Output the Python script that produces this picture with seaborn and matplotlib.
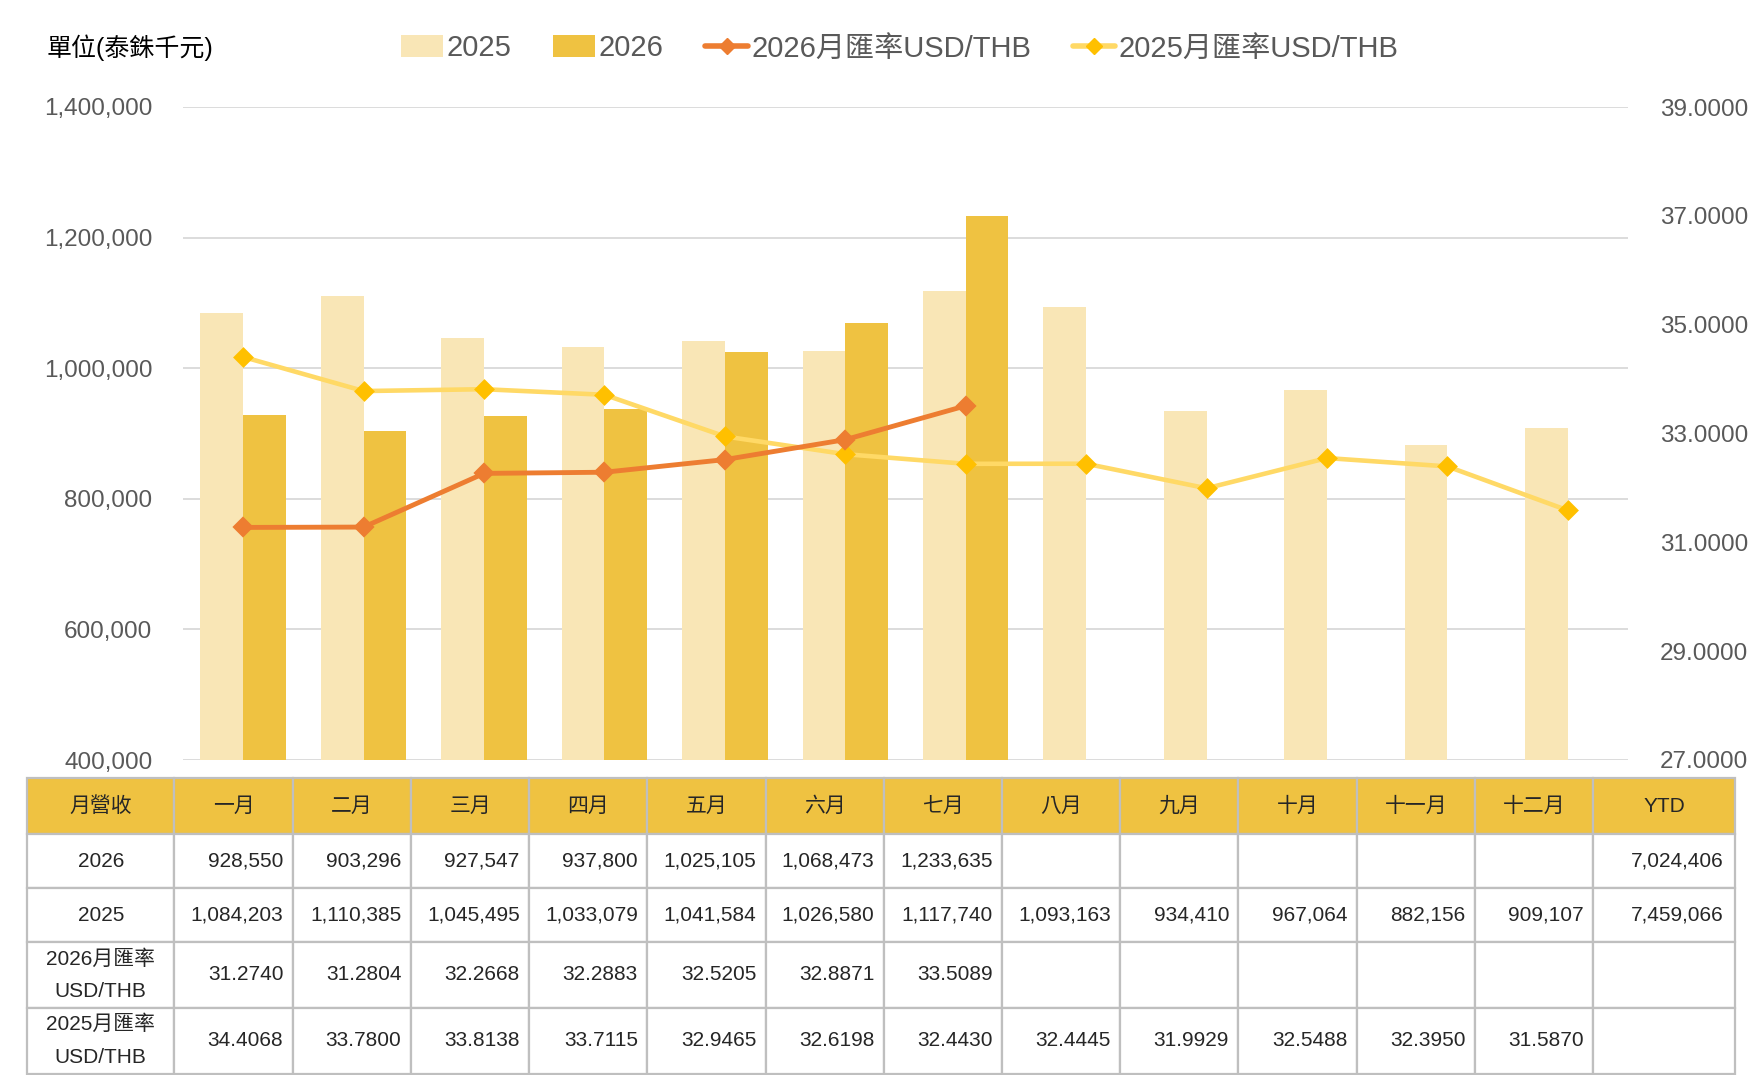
import numpy as np
import pandas as pd
import matplotlib
matplotlib.use("Agg")
import matplotlib.pyplot as plt
import seaborn as sns
from matplotlib.patches import Patch
from matplotlib.lines import Line2D

## chart data
months = ["一月", "二月", "三月", "四月", "五月", "六月",
          "七月", "八月", "九月", "十月", "十一月", "十二月"]
rev_2026 = [928550, 903296, 927547, 937800, 1025105, 1068473, 1233635]
rev_2025 = [1084203, 1110385, 1045495, 1033079, 1041584, 1026580,
            1117740, 1093163, 934410, 967064, 882156, 909107]
fx_2026 = [31.2740, 31.2804, 32.2668, 32.2883, 32.5205, 32.8871, 33.5089]
fx_2025 = [34.4068, 33.7800, 33.8138, 33.7115, 32.9465, 32.6198,
           32.4430, 32.4445, 31.9929, 32.5488, 32.3950, 31.5870]
left_ticks = [400000, 600000, 800000, 1000000, 1200000, 1400000]
right_ticks = [27, 29, 31, 33, 35, 37, 39]

c25 = "#F9E6B6"
c26 = "#EFC241"
c_fx26 = "#ED7D31"
c_fx25_line = "#FFD966"
c_fx25_mark = "#FFC000"
grey = "#595959"

sns.set_style("white")
plt.rcParams["font.family"] = ["Liberation Sans", "Noto Sans CJK TC", "DejaVu Sans"]

## padding 2026 with NaN for months not reported yet
n26 = len(rev_2026)
rev_2026_full = rev_2026 + [np.nan] * (12 - n26)
fx_2026_full = fx_2026 + [np.nan] * (12 - n26)

df = pd.DataFrame({
    "month": months * 2,
    "year": ["2025"] * 12 + ["2026"] * 12,
    "rev": rev_2025 + rev_2026_full,
})

fig = plt.figure(figsize=(17.64, 10.75), dpi=100)
ax = fig.add_axes([183 / 1764, 1 - 760 / 1075, (1628 - 183) / 1764, (760 - 107) / 1075])

sns.barplot(data=df, x="month", y="rev", hue="year", order=months,
            hue_order=["2025", "2026"], palette={"2025": c25, "2026": c26},
            saturation=1, width=0.71, linewidth=0, ax=ax, legend=False, zorder=2)
ax.set_ylim(400000, 1400000)
ax.set_yticks(left_ticks)
ax.set_yticklabels([f"{v:,}" for v in left_ticks], color=grey, fontsize=17.5)
ax.yaxis.grid(True, color="#D9D9D9", linewidth=1.3, zorder=0)
ax.set_axisbelow(True)
ax.set_xticks([])
ax.set_xlabel("")
ax.set_ylabel("")
ax.tick_params(axis="y", length=0, pad=22)
for s in ax.spines.values():
    s.set_visible(False)

ax2 = ax.twinx()
sns.pointplot(x=months, y=fx_2025, order=months, color=c_fx25_line, markers="D",
              errorbar=None, ax=ax2, linewidth=3.3, markersize=8,
              markerfacecolor=c_fx25_mark, markeredgecolor=c_fx25_mark)
sns.pointplot(x=months, y=fx_2026_full, order=months, color=c_fx26, markers="D",
              errorbar=None, ax=ax2, linewidth=3.5, markersize=8)
ax2.set_ylim(27, 39)
ax2.set_yticks(right_ticks)
ax2.set_yticklabels([f"{v:.4f}" for v in right_ticks], color=grey, fontsize=17.5)
ax2.tick_params(axis="y", length=0, pad=23)
ax2.set_xticks([])
ax2.set_xlabel("")
ax2.set_ylabel("")
for s in ax2.spines.values():
    s.set_visible(False)
ax.set_xlim(-0.5, 11.5)
ax2.set_xlim(-0.5, 11.5)

## legend and unit label
handles = [
    Patch(facecolor=c25, edgecolor="none"),
    Patch(facecolor=c26, edgecolor="none"),
    Line2D([], [], color=c_fx26, linewidth=4, marker="D", markersize=8),
    Line2D([], [], color=c_fx25_line, linewidth=4, marker="D", markersize=8,
           markerfacecolor=c_fx25_mark, markeredgecolor=c_fx25_mark),
]
labels = ["2025", "2026", "2026月匯率USD/THB", "2025月匯率USD/THB"]
leg = fig.legend(handles, labels, loc="center", bbox_to_anchor=(0.510, 0.955),
                 ncol=4, frameon=False, fontsize=21, handlelength=1.45,
                 handleheight=0.8, handletextpad=0.12, columnspacing=1.43)
for t in leg.get_texts():
    t.set_color(grey)
fig.text(47 / 1764, 0.956, "單位(泰銖千元)", fontsize=18, color="black",
         ha="left", va="center")

## table below the chart
ytd_2026 = sum(rev_2026)
ytd_2025 = sum(rev_2025[:n26])
header = ["月營收"] + months + ["YTD"]
row26 = ["2026"] + [f"{v:,}" for v in rev_2026] + [""] * (12 - n26) + [f"{ytd_2026:,}"]
row25 = ["2025"] + [f"{v:,}" for v in rev_2025] + [f"{ytd_2025:,}"]
rowfx26 = ["2026月匯率\nUSD/THB"] + [f"{v:.4f}" for v in fx_2026] + [""] * (12 - n26) + [""]
rowfx25 = ["2025月匯率\nUSD/THB"] + [f"{v:.4f}" for v in fx_2025] + [""]
cells = [header, row26, row25, rowfx26, rowfx25]

col_w = [131] + [105] * 12 + [126]
row_h = [50, 48, 48, 58, 59]

tax = fig.add_axes([27 / 1764, 1 / 1075, (1735 - 27) / 1764, (1074 - 778) / 1075])
tax.axis("off")
tbl = tax.table(cellText=cells, colWidths=[w / sum(col_w) for w in col_w],
                cellLoc="right", bbox=[0, 0, 1, 1])
tbl.auto_set_font_size(False)
tbl.set_fontsize(15)
for (r, c), cell in tbl.get_celld().items():
    cell.set_height(row_h[r] / sum(row_h))
    cell.set_edgecolor("#BFBFBF")
    cell.set_linewidth(1.6)
    cell.PAD = 0.08
    if r == 0:
        cell.set_facecolor(c26)
    if r == 0 or c == 0:
        cell.get_text().set_horizontalalignment("center")
    if r >= 3 and c == 0:
        cell.get_text().set_linespacing(1.9)

fig.savefig("out.png", dpi=100)
